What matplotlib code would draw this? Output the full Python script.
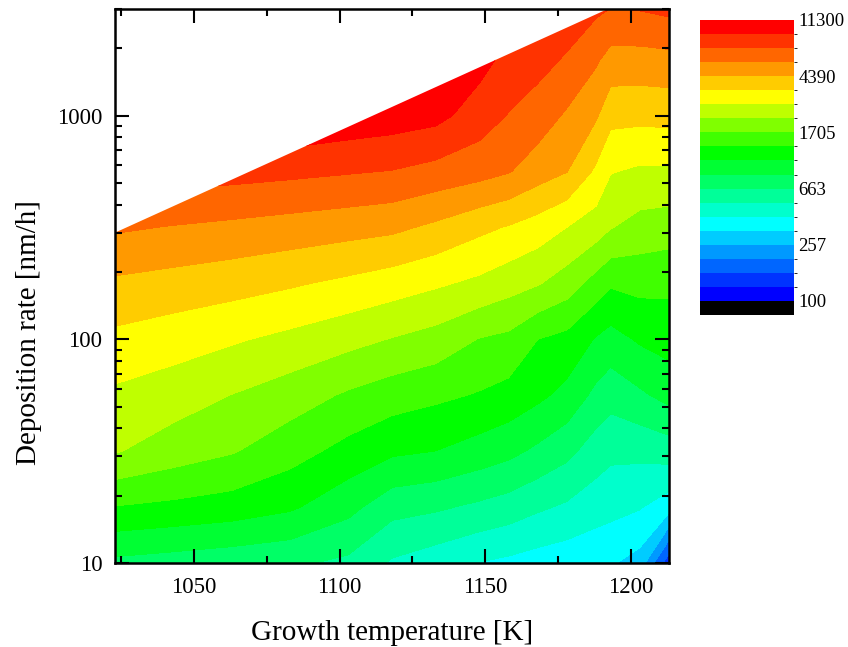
import numpy as np
import matplotlib
matplotlib.use("Agg")
import matplotlib.pyplot as plt
from matplotlib.colors import ListedColormap, BoundaryNorm
from matplotlib.cm import ScalarMappable
from matplotlib.patches import Polygon
from matplotlib.ticker import FixedLocator, NullFormatter

plt.rcParams['font.family'] = ['Liberation Serif', 'DejaVu Serif']

# Growth temperatures [K] of the grid columns
temperature = [1023, 1043, 1063, 1083, 1103, 1118, 1133, 1148, 1158, 1168,
               1178, 1188, 1193, 1203, 1213]
# Deposition rates [nm/h] of the grid rows
rate = [10, 17.78, 31.62, 56.23, 100, 177.8, 316.2, 562.3, 1000, 1778, 3162]

# Mapped quantity, one list per temperature (low -> high deposition rate)
z1023 = [791, 1334, 2197, 2617, 3268, 4207, 5748, 8510, 12717, 18131, 25846]
z1043 = [755, 1275, 1924, 2415, 3044, 4013, 5482, 7834, 11300, 16109, 22966]
z1063 = [721, 1211, 1738, 2150, 2816, 3810, 5266, 7706, 11300, 16109, 22966]
z1083 = [690, 1102, 1480, 1915, 2574, 3566, 5035, 7455, 11300, 16109, 22966]
z1103 = [629, 903, 1246, 1650, 2325, 3291, 4803, 7179, 10527, 14314, 20405]
z1118 = [507, 721, 1109, 1505, 2135, 3066, 4624, 6977, 10113, 14314, 20405]
z1133 = [458, 687, 1061, 1412, 1970, 2829, 4178, 6500, 9578, 11847, 16109]
z1148 = [410, 633, 963, 1321, 1686, 2598, 3660, 6069, 7946, 9691, 12717]
z1158 = [392, 596, 895, 1243, 1608, 2381, 3402, 5640, 6961, 8311, 10041]
z1168 = [372, 543, 800, 1120, 1347, 2197, 3102, 4917, 6288, 7651, 9354]
z1178 = [358, 505, 708, 990, 1254, 1924, 2730, 4411, 5380, 6847, 8311]
z1188 = [343, 460, 589, 787, 1041, 1545, 2432, 3315, 4516, 5748, 7562]
z1193 = [335, 445, 552, 725, 970, 1389, 2181, 2770, 3729, 5083, 7212]
z1203 = [296, 420, 556, 806, 1096, 1446, 1975, 2629, 3694, 5071, 7385]
z1213 = [136, 360, 586, 907, 1169, 1422, 1906, 2635, 3738, 5156, 7742]

# Upper edge of the accessible growth window (two end points)
edge_temperature = [1023, 1192]
edge_rate = [300, 3000]

# Contour levels and colour bands
levels = [100, 127, 160, 203, 257, 326, 413, 523, 663, 839, 1063, 1347, 1705,
          2160, 2737, 3466, 4390, 5561, 7044, 8922, 11300]
band_colors = ['#0000FF', '#0033FF', '#0066FF', '#0099FF', '#00CCFF', '#00FFFF',
               '#00FFCC', '#00FF99', '#00FF66', '#00FF33', '#00FF00', '#40FF00',
               '#80FF00', '#BFFF00', '#FFFF00', '#FFCC00', '#FF9900', '#FF6600',
               '#FF3300', '#FF0000']
tick_levels = [100, 257, 663, 1705, 4390, 11300]

columns = [z1023, z1043, z1063, z1083, z1103, z1118, z1133, z1148, z1158,
           z1168, z1178, z1188, z1193, z1203, z1213]
Z = np.column_stack(columns).astype(float)
T = np.array(temperature, float)
logR = np.log10(rate)
ymax = np.log10(3000)

fig = plt.figure(figsize=(8.48, 6.47), dpi=100)
ax = fig.add_axes([115 / 848, 84 / 647, 554 / 848, 554 / 647])

cs = ax.contourf(T, logR, np.log10(Z), levels=np.log10(levels),
                 colors=['#000000'] + band_colors + ['#FF0000'], extend='both',
                 antialiased=False)

# clip the map to the region below the window edge
lt = np.log10(edge_rate)
slope = (lt[1] - lt[0]) / (edge_temperature[1] - edge_temperature[0])
x0, x1 = 1000.0, 1240.0
verts = [(x0, 0.5), (x0, lt[0] + slope * (x0 - edge_temperature[0])),
         (x1, lt[0] + slope * (x1 - edge_temperature[0])), (x1, 0.5)]
clip = Polygon(verts, closed=True, transform=ax.transData)
cs.set_clip_path(clip)

ax.set_xlim(1023, 1213)
ax.set_ylim(1, ymax)

ax.xaxis.set_major_locator(FixedLocator([1050, 1100, 1150, 1200]))
ax.xaxis.set_minor_locator(FixedLocator([1025, 1075, 1125, 1175]))
ax.set_xticklabels(['1050', '1100', '1150', '1200'])
ax.yaxis.set_major_locator(FixedLocator([1, 2, 3]))
ax.set_yticklabels(['10', '100', '1000'])
minor = [np.log10(m * d) for d in (10, 100, 1000) for m in range(2, 10)
         if m * d <= 3000]
ax.yaxis.set_minor_locator(FixedLocator(minor))
ax.yaxis.set_minor_formatter(NullFormatter())
ax.xaxis.set_minor_formatter(NullFormatter())

ax.tick_params(which='both', direction='in', top=True, right=True,
               width=1.5, colors='black')
ax.tick_params(which='major', length=10)
ax.tick_params(which='minor', length=5)
ax.tick_params(axis='x', which='major', labelsize=16.5, pad=10)
ax.tick_params(axis='y', which='major', labelsize=16.5, pad=9)
for s in ax.spines.values():
    s.set_linewidth(1.8)

fig.text(392 / 848, 1 - 633 / 647, 'Growth temperature [K]', fontsize=21,
         ha='center', va='center')
fig.text(29 / 848, 1 - 333 / 647, 'Deposition rate [nm/h]', fontsize=21,
         ha='center', va='center', rotation=90)

# colour scale
cmap = ListedColormap(band_colors)
cmap.set_under('#000000')
norm = BoundaryNorm(levels, cmap.N)
sm = ScalarMappable(norm=norm, cmap=cmap)
cax = fig.add_axes([700 / 848, 1 - 315 / 647, 94 / 848, 295 / 647])
cb = fig.colorbar(sm, cax=cax, extend='min', extendrect=True, extendfrac=0.05,
                  ticks=tick_levels, drawedges=False)
cb.set_ticklabels([str(v) for v in tick_levels])
cb.outline.set_visible(False)
cax.tick_params(length=0, labelsize=13.5, pad=3)

fig.savefig('out.png', dpi=100)
